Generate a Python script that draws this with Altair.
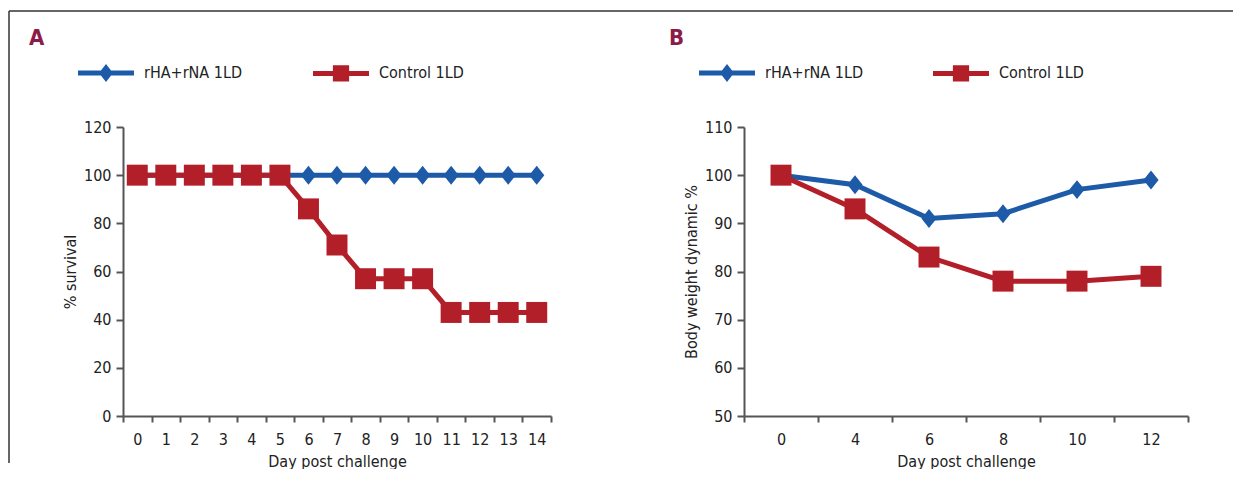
import altair as alt
import pandas as pd

series_names = ["rHA+rNA 1LD", "Control 1LD"]
colors = ["#1d5aa8", "#b31f29"]

days_a = [0, 1, 2, 3, 4, 5, 6, 7, 8, 9, 10, 11, 12, 13, 14]
survival_vacc = [100, 100, 100, 100, 100, 100, 100, 100, 100, 100, 100, 100, 100, 100, 100]
survival_ctrl = [100, 100, 100, 100, 100, 100, 86, 71, 57, 57, 57, 43, 43, 43, 43]

days_b = [0, 4, 6, 8, 10, 12]
weight_vacc = [100, 98, 91, 92, 97, 99]
weight_ctrl = [100, 93, 83, 78, 78, 79]

FONT = "Liberation Sans Narrow, DejaVu Sans Condensed, sans-serif"

diamond_path = "M-0.8,0L0,-1L0.8,0L0,1Z"
leg_diamond = "M-1,-0.09L1,-0.09L1,0.09L-1,0.09Z M-0.25,0L0,-0.32L0.25,0L0,0.32Z"
leg_square = "M-1,-0.09L1,-0.09L1,0.09L-1,0.09Z M-0.29,-0.29L0.29,-0.29L0.29,0.29L-0.29,0.29Z"


def long_df(days, vacc, ctrl):
    rows = []
    for d, v in zip(days, vacc):
        rows.append({"day": str(d), "value": v, "series": series_names[0]})
    for d, v in zip(days, ctrl):
        rows.append({"day": str(d), "value": v, "series": series_names[1]})
    return pd.DataFrame(rows)


def panel(df, days, ydomain, ystep, ytitle, letter, title_dx, width, col_pad,
          frame_rule=None, title_offset=-40):
    order = [str(d) for d in days]
    x = alt.X("day:N", sort=order, bandPosition=0.5,
              scale=alt.Scale(type="band", paddingInner=0, paddingOuter=0),
              axis=alt.Axis(title="Day post challenge", labelAngle=0, tickBand="extent",
                            tickSize=6, labelPadding=9, titlePadding=6))
    y = alt.Y("value:Q", scale=alt.Scale(domain=ydomain, nice=False, zero=False),
              axis=alt.Axis(title=ytitle, values=list(range(ydomain[0], ydomain[1] + 1, ystep)),
                            tickSize=7, labelPadding=5, titlePadding=5))
    base = alt.Chart(df).encode(x=x, y=y)
    layers = []
    if frame_rule is not None:
        layers.append(frame_rule)
    for name, col in zip(series_names, colors):
        layers.append(base.transform_filter(alt.datum.series == name)
                      .mark_line(color=col, strokeWidth=5))
    layers.append(base.transform_filter(alt.datum.series == series_names[0])
                  .mark_point(shape=diamond_path, filled=True, color=colors[0], opacity=1, size=360))
    layers.append(base.transform_filter(alt.datum.series == series_names[1])
                  .mark_point(shape="square", filled=True, color=colors[1], opacity=1, size=440))
    legend_layer = alt.Chart(df).transform_filter("false").mark_point(filled=True, opacity=1).encode(
        color=alt.Color("series:N", scale=alt.Scale(domain=series_names, range=colors),
                        legend=alt.Legend(title=None, orient="none", legendX=-45, legendY=-82,
                                          direction="horizontal", symbolSize=3136,
                                          symbolStrokeWidth=0, labelFontSize=16,
                                          labelFont=FONT, labelColor="#222222",
                                          labelOffset=10, columnPadding=col_pad)),
        shape=alt.Shape("series:N", scale=alt.Scale(domain=series_names, range=[leg_diamond, leg_square])),
    )
    layers.append(legend_layer)
    return alt.layer(*layers).properties(
        width=width, height=289,
        title=alt.Title(letter, anchor="start", frame="group", dx=title_dx, fontSize=22,
                        fontWeight="bold", color="#8a1c47", font=FONT, offset=title_offset),
    )


frame_df = pd.DataFrame({"frame": [0]})
left_rule = alt.Chart(frame_df).mark_rule(color="#333333", strokeWidth=1.5).encode(
    x=alt.value(-114), y=alt.value(-116), y2=alt.value(336))
top_rule = alt.Chart(frame_df).mark_rule(color="#333333", strokeWidth=1.5).encode(
    x=alt.value(-735), x2=alt.value(489), y=alt.value(-116))

chart_a = panel(long_df(days_a, survival_vacc, survival_ctrl), days_a, [0, 120], 20,
                "% survival", "A", -94, 428, 71, frame_rule=left_rule)
chart_b = panel(long_df(days_b, weight_vacc, weight_ctrl), days_b, [50, 110], 10,
                "Body weight dynamic %", "B", -75, 444, 70, frame_rule=top_rule)

chart = alt.hconcat(chart_a, chart_b, spacing=193, bounds="flush").resolve_scale(
    color="independent", shape="independent"
).resolve_legend(color="independent", shape="independent").properties(
    padding={"left": 0, "top": 2, "right": 0, "bottom": 0}
).configure_view(stroke=None).configure_axis(
    domainColor="#555555", domainWidth=2, tickColor="#555555", tickWidth=2, grid=False,
    labelFont=FONT, labelFontSize=16, labelColor="#222222",
    titleFont=FONT, titleFontSize=16, titleColor="#222222", titleFontWeight="normal",
)

chart.save("out.html", embed_options={"renderer": "svg", "actions": False})
